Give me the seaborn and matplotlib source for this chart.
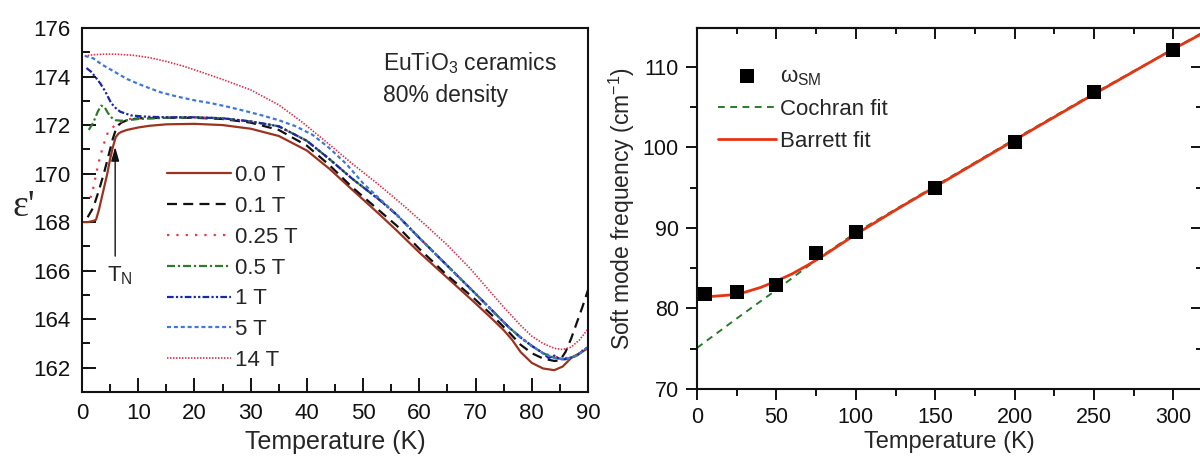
import matplotlib
matplotlib.use("Agg")
import matplotlib.pyplot as plt
from matplotlib.ticker import MultipleLocator
import seaborn as sns

# ---------------- data: left panel (epsilon' vs T for several fields) ----------------
field_labels = ["0.0 T", "0.1 T", "0.25 T", "0.5 T", "1 T", "5 T", "14 T"]

T_00 = [0.3, 1.0, 2.0, 2.5, 3.0, 3.5, 4.0, 4.5, 5.0, 5.5, 6.0, 6.5, 7.0, 8.0, 10, 12, 15, 20, 25, 30,
        35, 40, 44, 48, 53, 56, 60, 65, 70, 73, 75, 76.5, 78, 80, 82, 84, 85.5, 87, 88.5, 90]
eps_00 = [168.0, 168.0, 168.05, 168.1, 168.5, 169.0, 169.5, 170.0, 170.6, 171.1, 171.5, 171.65, 171.72,
          171.8, 171.9, 171.97, 172.03, 172.05, 172.0, 171.85, 171.55, 170.95, 170.2, 169.35, 168.3,
          167.65, 166.75, 165.7, 164.65, 164.0, 163.55, 163.15, 162.65, 162.2, 161.97, 161.9, 162.05,
          162.4, 162.6, 162.8]

T_01 = [1.0, 2.0, 3.0, 4.0, 5.0, 5.5, 6.0, 6.5, 7.0, 8.0, 10, 15, 20, 25, 30, 35, 40, 44, 48, 53, 56,
        60, 65, 70, 73, 76, 78, 80, 82, 84, 85, 86, 87, 88, 89, 90]
eps_01 = [168.2, 168.6, 169.3, 170.1, 171.0, 171.45, 171.8, 172.0, 172.1, 172.2, 172.28, 172.3, 172.3,
          172.25, 172.1, 171.8, 171.15, 170.35, 169.45, 168.45, 167.85, 166.9, 165.8, 164.8, 164.15,
          163.45, 162.95, 162.6, 162.38, 162.28, 162.3, 162.65, 163.2, 163.85, 164.5, 165.2]

T_025 = [1.5, 2.0, 2.9, 3.7, 4.6, 5.9, 7.0, 8.5, 10, 15, 20, 25, 30, 35, 40, 44, 48, 53, 56, 60, 65,
         70, 73, 76, 78, 80, 82, 84, 86, 88, 90]
eps_025 = [169.0, 169.4, 170.4, 171.1, 171.7, 172.0, 172.15, 172.25, 172.3, 172.32, 172.32, 172.28,
           172.15, 171.95, 171.35, 170.6, 169.8, 168.9, 168.3, 167.35, 166.2, 165.05, 164.35, 163.65,
           163.25, 162.9, 162.6, 162.45, 162.4, 162.5, 162.9]

T_05 = [1.2, 2.0, 2.8, 3.4, 4.0, 4.6, 5.3, 6.0, 7.0, 8.0, 10, 15, 20, 25, 30, 35, 40, 44, 48, 53, 56,
        60, 65, 70, 73, 76, 78, 80, 82, 84, 86, 88, 90]
eps_05 = [171.8, 172.1, 172.55, 172.8, 172.75, 172.5, 172.3, 172.2, 172.18, 172.2, 172.25, 172.3,
          172.32, 172.28, 172.15, 171.95, 171.35, 170.6, 169.8, 168.9, 168.3, 167.35, 166.2, 165.05,
          164.35, 163.65, 163.25, 162.9, 162.6, 162.4, 162.35, 162.5, 162.85]

T_1 = [0.8, 1.6, 2.5, 3.3, 4.1, 5.2, 6.0, 6.8, 8.7, 11, 15, 20, 25, 30, 35, 40, 44, 48, 53, 56, 60,
       65, 70, 73, 76, 78, 80, 82, 83, 84, 85, 86, 88, 90]
eps_1 = [174.35, 174.2, 173.95, 173.7, 173.4, 172.9, 172.7, 172.55, 172.4, 172.35, 172.32, 172.32,
         172.28, 172.15, 171.95, 171.35, 170.6, 169.8, 168.9, 168.3, 167.35, 166.2, 165.05, 164.35,
         163.65, 163.25, 162.9, 162.6, 162.4, 162.5, 162.35, 162.35, 162.5, 162.85]

T_5 = [0.5, 2, 3.5, 5, 6.5, 8, 10, 12, 14, 17, 20, 23, 26, 29, 32, 35, 38, 41, 44, 47, 50, 53, 56,
       60, 65, 70, 73, 76, 78, 80, 82, 84, 86, 88, 90]
eps_5 = [174.85, 174.75, 174.5, 174.3, 174.1, 173.9, 173.7, 173.52, 173.35, 173.17, 173.02, 172.9,
         172.75, 172.58, 172.4, 172.2, 171.95, 171.6, 171.05, 170.4, 169.6, 168.95, 168.3, 167.35,
         166.2, 165.05, 164.35, 163.65, 163.25, 162.9, 162.6, 162.4, 162.35, 162.5, 162.85]

T_14 = [0.5, 2, 4, 6, 9, 12, 15, 18, 21, 25, 30, 35, 39, 44, 48, 53, 57, 61, 65, 69, 72, 75, 78, 80,
        82, 84, 85.5, 87, 88.5, 90]
eps_14 = [174.85, 174.9, 174.92, 174.92, 174.88, 174.78, 174.62, 174.43, 174.2, 173.88, 173.45,
          172.83, 172.15, 171.2, 170.42, 169.5, 168.72, 167.9, 167.05, 166.1, 165.3, 164.5, 163.75,
          163.3, 163.0, 162.8, 162.75, 162.85, 163.15, 163.6]

# ---------------- data: right panel (soft mode frequency) ----------------
T_sm = [5, 25, 50, 75, 100, 150, 200, 250, 300]
omega_sm = [81.8, 82.0, 82.9, 86.9, 89.5, 95.0, 100.7, 106.8, 112.1]

T_cochran = [0, 25, 50, 75, 100, 150, 200, 250, 300, 318]
omega_cochran = [75.1, 78.75, 82.3, 86.0, 89.4, 95.2, 101.0, 106.7, 112.2, 114.2]

T_barrett = [0, 10, 20, 30, 40, 50, 60, 70, 80, 90, 100, 125, 150, 175, 200, 250, 300, 318]
omega_barrett = [81.6, 81.5, 81.65, 82.0, 82.6, 83.4, 84.3, 85.4, 86.6, 87.9, 89.2, 92.2, 95.1,
                 98.0, 100.9, 106.6, 112.2, 114.1]

right_labels = ["\u03c9$_\\mathregular{SM}$", "Cochran fit", "Barrett fit"]

# ---------------- style ----------------
sns.set_theme(style="ticks")
plt.rcParams["font.family"] = ["Liberation Sans", "DejaVu Sans"]
plt.rcParams["mathtext.default"] = "regular"

fig = plt.figure(figsize=(12, 4.59), dpi=100)
W, H = 1200, 459
axL = fig.add_axes([82 / W, 1 - 392 / H, 506 / W, 364 / H])
axR = fig.add_axes([697 / W, 1 - 389 / H, 505 / W, 361 / H])

left_series = [
    (T_00, eps_00, "#9a3420", "-", 1.6),
    (T_01, eps_01, "#111111", (0, (4.5, 2.8)), 1.6),
    (T_025, eps_025, "#e8384a", (0, (1.0, 3.2)), 1.6),
    (T_05, eps_05, "#2f7a2f", (0, (3.6, 1.3, 1.0, 1.3)), 1.6),
    (T_1, eps_1, "#1c26a8", (0, (3.0, 1.0, 1.0, 1.0, 1.0, 1.0)), 1.6),
    (T_5, eps_5, "#3f78d8", (0, (1.8, 1.3)), 1.6),
    (T_14, eps_14, "#d8324f", (0, (0.9, 0.9)), 1.2),
]
for (tx, ey, col, ls, lw), lab in zip(left_series, field_labels):
    sns.lineplot(x=tx, y=ey, ax=axL, color=col, linestyle=ls, linewidth=lw, label=lab,
                 errorbar=None, sort=False)

axL.set_xlim(0, 90)
axL.set_ylim(161, 176)
axL.xaxis.set_major_locator(MultipleLocator(10))
axL.xaxis.set_minor_locator(MultipleLocator(5))
axL.yaxis.set_major_locator(MultipleLocator(2))
axL.yaxis.set_minor_locator(MultipleLocator(1))
axL.tick_params(which="both", direction="in", top=False, right=False, width=1.4,
                labelsize=16, colors="#111111")
axL.tick_params(which="major", length=10, pad=8)
axL.tick_params(which="minor", length=6)
for s in axL.spines.values():
    s.set_linewidth(1.5)
    s.set_color("#111111")
axL.set_xlabel("Temperature (K)", fontsize=18, labelpad=4)
axL.set_ylabel("")

h, l = axL.get_legend_handles_labels()
legL = axL.legend(h, l, loc="upper left", bbox_to_anchor=(0.168, 0.623), frameon=False,
                  fontsize=16, handlelength=2.9, handletextpad=0.15, labelspacing=0.44,
                  borderaxespad=0, borderpad=0)

axL.text(53.5, 174.27, "EuTiO$_3$ ceramics", fontsize=16.5, ha="left", va="baseline")
axL.text(53.5, 172.95, "80% density", fontsize=16.5, ha="left", va="baseline")
axL.annotate("", xy=(5.9, 171.1), xytext=(5.9, 166.6),
             arrowprops=dict(arrowstyle="-|>,head_length=0.7,head_width=0.2", color="#111111",
                             lw=1.0, shrinkA=0, shrinkB=0))
axL.text(4.5, 165.55, "T$_N$", fontsize=16, ha="left", va="baseline")
fig.text(24 / W, 1 - 207 / H, "\u03b5'", fontsize=27, family="Liberation Serif",
         ha="center", va="center")

# ---------------- right panel ----------------
sns.lineplot(x=T_cochran, y=omega_cochran, ax=axR, color="#2a7a2a", linestyle=(0, (3.5, 2.8)),
             linewidth=1.4, label=right_labels[1], errorbar=None, sort=False)
sns.lineplot(x=T_barrett, y=omega_barrett, ax=axR, color="#e63312", linewidth=2.0,
             label=right_labels[2], errorbar=None, sort=False)
sns.scatterplot(x=T_sm, y=omega_sm, ax=axR, marker="s", s=95, color="black", edgecolor="black",
                linewidth=0, label=right_labels[0], zorder=3)

axR.set_xlim(0, 318)
axR.set_ylim(70, 114.8)
axR.xaxis.set_major_locator(MultipleLocator(50))
axR.xaxis.set_minor_locator(MultipleLocator(25))
axR.yaxis.set_major_locator(MultipleLocator(10))
axR.yaxis.set_minor_locator(MultipleLocator(5))
axR.tick_params(which="both", direction="out", top=False, right=False, width=1.4,
                labelsize=15.5, colors="#111111")
axR.tick_params(which="major", length=8, pad=5)
axR.tick_params(which="minor", length=5)
for s in axR.spines.values():
    s.set_linewidth(1.5)
    s.set_color("#111111")

topx = axR.secondary_xaxis("top")
topx.xaxis.set_major_locator(MultipleLocator(50))
topx.xaxis.set_minor_locator(MultipleLocator(25))
topx.tick_params(which="both", direction="in", labeltop=False, width=1.4, colors="#111111")
topx.tick_params(which="major", length=8)
topx.tick_params(which="minor", length=4)
topx.spines["top"].set_linewidth(1.5)
rgty = axR.secondary_yaxis("right")
rgty.yaxis.set_major_locator(MultipleLocator(10))
rgty.yaxis.set_minor_locator(MultipleLocator(5))
rgty.tick_params(which="both", direction="in", labelright=False, width=1.4, colors="#111111")
rgty.tick_params(which="major", length=8)
rgty.tick_params(which="minor", length=4)

axR.set_xlabel("Temperature (K)", fontsize=17, labelpad=2)
axR.set_ylabel("Soft mode frequency (cm$^{-1}$)", fontsize=16.5, labelpad=4)

hR, lR = axR.get_legend_handles_labels()
order = [lR.index(t) for t in right_labels]
axR.legend([hR[i] for i in order], [lR[i] for i in order], loc="upper left",
           bbox_to_anchor=(0.042, 0.895), frameon=False, fontsize=16, handlelength=2.6,
           handletextpad=0.2, labelspacing=0.5, borderaxespad=0, borderpad=0)

fig.savefig("out.png", dpi=100, facecolor="white")
